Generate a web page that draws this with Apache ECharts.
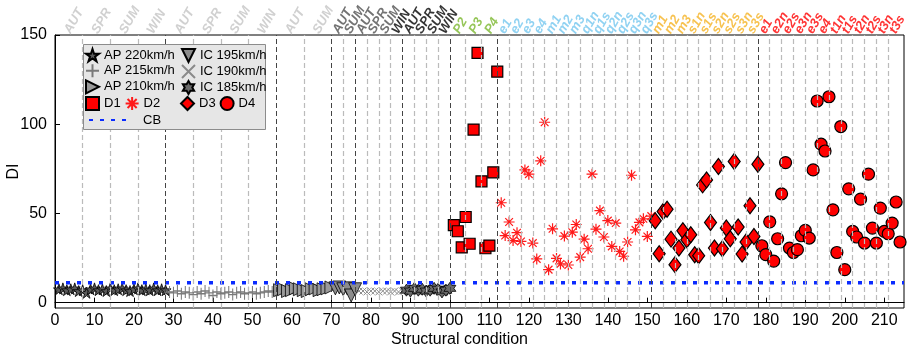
<!DOCTYPE html>
<html>
<head>
<meta charset="utf-8">
<script src="https://cdn.jsdelivr.net/npm/echarts@6/dist/echarts.min.js"></script>
<style>
html, body { margin: 0; padding: 0; background: #fff; }
#main { width: 907px; height: 355px; }
</style>
</head>
<body>
<div id="main"></div>
<script>
var dom = document.getElementById('main');
var myChart = echarts.init(dom);

// low-DI runs (one value per structural condition)
var ap220Start = 1;
var ap220 = [7.5, 8, 7, 7.5, 8, 6.5, 7, 5.5, 7.5, 8, 7, 7.5, 6.5, 8, 7, 7.5, 8, 7, 6.5, 7.5, 8, 7, 7.5, 7, 8, 7, 7.5, 7];
var ap215Start = 29;
var ap215 = [6, 5.5, 6.5, 5, 6, 5.5, 4.5, 6, 5, 6.5, 5.5, 4, 6, 5, 5.5, 6, 4.5, 5.5, 6, 5, 5.5, 6, 5, 5.5, 6, 6.5, 6, 6.5];
var ap210Start = 57;
var ap210 = [7, 7.5, 6.5, 7, 8, 7.5, 7, 6.5, 7.5, 8, 7, 7.5, 8, 8.5];
var ic195Start = 71;
var ic195 = [8, 8.5, 7.5, 8, 4, 7.5];
var ic190Start = 77;
var ic190 = [6.5, 6.5, 6, 6.5, 6.5, 6, 6.5, 6.5, 6, 6.5, 6, 6.5];
var ic185Start = 89;
var ic185 = [7, 6.5, 8, 7, 7.5, 6.5, 7, 8, 7.5, 6, 7, 8];

// damage runs
var d1Start = 101;
var d1 = [43.5, 40, 31, 48, 33, 97, 140, 68, 30.5, 32, 73, 129.5];
var d2Start = 113;
var d2 = [56, 37.6, 45.2, 34.8, 39.2, 34.3, 74.4, 72, 33.4, 24.5, 79.5, 101.1, 18.5, 41.4, 24.8,
          21.7, 37.3, 21.1, 39.5, 43.8, 25.5, 35.6, 30.2, 72, 41.2, 51.6, 36.8, 46, 31.5, 44.6,
          28.7, 26, 34, 71.4, 40.8, 45, 47, 37.1, 48.5];
var d3Start = 152;
var d3 = [45.9, 27.4, 51.1, 52.4, 35.6, 21.3, 30.6, 40.3, 35.3, 38, 26.9, 26.3, 66, 68.8, 44.9,
          30.6, 76.3, 30.2, 41.8, 35.8, 79.1, 42.4, 27.2, 34, 54.3, 37.1, 77.6];
var d4Start = 179;
var d4 = [31.9, 26.9, 45.3, 23.3, 35.8, 61, 78.5, 30.6, 28.1, 29.7, 37.5, 40.5, 36.2, 74.4, 113,
          88.8, 85, 115.4, 52, 28.1, 98.7, 18.5, 63.8, 39.9, 36.8, 58, 33.4, 72, 41.8, 33.4,
          53, 39.9, 38.6, 44.6, 56.4, 34];

var cbValue = 11.2;

var xTicks = [0, 10, 20, 30, 40, 50, 60, 70, 80, 90, 100, 110, 120, 130, 140, 150, 160, 170, 180, 190, 200, 210];
var yTicks = [0, 50, 100, 150];

// condition groups along the top
var labelGroups = [
    { names: ['AUT', 'SPR', 'SUM', 'WIN'], width: 7, colors: ['#c4c4c4'] },
    { names: ['AUT', 'SPR', 'SUM', 'WIN'], width: 7, colors: ['#c4c4c4'] },
    { names: ['AUT', 'SUM'], width: 7, colors: ['#c4c4c4'] },
    { names: ['AUT', 'SUM'], width: 3, colors: ['#505050'] },
    { names: ['AUT', 'SPR', 'SUM', 'WIN'], width: 3, colors: ['#505050', '#505050', '#505050', '#000'] },
    { names: ['AUT', 'SPR', 'SUM', 'WIN'], width: 3, colors: ['#000'] },
    { names: ['P2', 'P3', 'P4'], width: 4, colors: ['#7cb82f'] },
    { names: ['e1', 'e2', 'e3', 'e4', 'm1', 'm2', 'm3', 'q1n', 'q1s', 'q2n', 'q2s', 'q3n', 'q3s'], width: 3, colors: ['#74c7ef'] },
    { names: ['m1', 'm2', 'm3', 's1n', 's1s', 's2n', 's2s', 's3n', 's3s'], width: 3, colors: ['#f5b324'] },
    { names: ['e1', 'e2n', 'e2s', 'e3n', 'e3s', 'e4', 't1n', 't1s', 't2n', 't2s', 't3n', 't3s'], width: 3, colors: ['#ff0000'] }
];

function pairs(start, vals) {
    return vals.map(function (v, i) { return [start + i, v]; });
}

var topLabels = [];
var lines = [];
var pos = 0;
labelGroups.forEach(function (g, gi) {
    g.names.forEach(function (n, i) {
        var c = g.colors[i] || g.colors[0];
        topLabels.push({ value: [pos + g.width / 2, 150], name: n, label: { color: c } });
        pos += g.width;
        var last = i === g.names.length - 1;
        if (last && gi === labelGroups.length - 1) return;
        lines.push({
            xAxis: pos,
            lineStyle: last ? { color: '#444', type: [5, 3], width: 1 } : { color: '#bbb', type: [5, 3], width: 1.2 }
        });
    });
});

var FONT = 'Liberation Sans';
var starPath = 'path://M50,0L61.8,35.3L98.9,35.3L68.8,57.1L80.3,92.7L50,70.6L19.7,92.7L31.2,57.1L1.1,35.3L38.2,35.3Z';
var hexPath = 'path://M50,0L64.4,25L93.3,25L78.9,50L93.3,75L64.4,75L50,100L35.6,75L6.7,75L21.1,50L6.7,25L35.6,25Z';
var plusPath = 'path://M5,0L5,10M0,5L10,5';
var crossPath = 'path://M0,0L10,10M10,0L0,10';
var rightTri = 'path://M0,0L10,5L0,10Z';
var downTri = 'path://M0,0L10,0L5,10Z';
var asterisk = 'path://M5,0L5,10M0,5L10,5M1.5,1.5L8.5,8.5M8.5,1.5L1.5,8.5';

var legendText = { fontFamily: FONT, fontSize: 13, color: '#000', lineHeight: 14 };

var option = {
    animation: false,
    textStyle: { fontFamily: FONT },
    grid: { left: 55, right: 3, top: 35, bottom: 47, show: true, borderColor: '#000', borderWidth: 1,
            containLabel: false, outerBoundsMode: 'none' },
    graphic: [{
        type: 'rect', left: 83, top: 44, z: 50, zlevel: 0,
        shape: { width: 182, height: 85 },
        style: { fill: '#e6e6e6', stroke: '#8c8c8c', lineWidth: 1 }
    }],
    legend: [
        { z: 100, orient: 'vertical', left: 85, top: 48, padding: 0, itemGap: 1, itemWidth: 13, itemHeight: 13, selectedMode: false, textStyle: legendText, data: ['AP 220km/h', 'AP 215km/h', 'AP 210km/h'] },
        { z: 100, orient: 'vertical', left: 181, top: 48, padding: 0, itemGap: 1, itemWidth: 13, itemHeight: 13, selectedMode: false, textStyle: legendText, data: ['IC 195km/h', 'IC 190km/h', 'IC 185km/h'] },
        { z: 100, orient: 'horizontal', left: 85, top: 96, padding: 0, itemGap: 4, itemWidth: 13, itemHeight: 13, selectedMode: false, textStyle: legendText, data: ['D1', 'D2'] },
        { z: 100, orient: 'horizontal', left: 180, top: 96, padding: 0, itemGap: 4, itemWidth: 13, itemHeight: 13, selectedMode: false, textStyle: legendText, data: ['D3', 'D4'] },
        { z: 100, orient: 'horizontal', left: 88, top: 113, padding: 0, itemWidth: 42, itemHeight: 14, selectedMode: false,
          textStyle: { fontFamily: FONT, fontSize: 13, color: '#000', lineHeight: 14, padding: [0, 0, 0, 7] },
          data: [{ name: 'CB', itemStyle: { opacity: 0 } }] }
    ],
    xAxis: {
        type: 'value', min: 0, max: 215,
        name: 'Structural condition', nameLocation: 'middle', nameGap: 24, nameMoveOverlap: false,
        nameTextStyle: { fontFamily: FONT, fontSize: 16, color: '#000', padding: [0, 40, 0, 0] },
        axisLine: { lineStyle: { color: '#000', width: 1 } },
        axisTick: { inside: true, length: 5, lineStyle: { color: '#000' }, customValues: xTicks },
        axisLabel: { fontFamily: FONT, fontSize: 16, color: '#000', margin: 5, customValues: xTicks },
        splitLine: { show: false }
    },
    yAxis: {
        type: 'value', min: -3, max: 150,
        name: 'DI', nameLocation: 'middle', nameGap: 33, nameMoveOverlap: false,
        nameTextStyle: { fontFamily: FONT, fontSize: 16, color: '#000' },
        axisLine: { lineStyle: { color: '#000', width: 1 } },
        axisTick: { inside: true, length: 5, lineStyle: { color: '#000' }, customValues: yTicks },
        axisLabel: { fontFamily: FONT, fontSize: 16, color: '#000', margin: 8, customValues: yTicks },
        splitLine: { show: false }
    },
    series: [
        {
            name: 'conditions', type: 'scatter', symbolSize: 0, z: 1, clip: false, silent: true,
            data: topLabels,
            label: {
                show: true, position: 'top', distance: 5, offset: [-3, 0], rotate: 60,
                align: 'left', verticalAlign: 'middle',
                fontFamily: FONT, fontSize: 13, fontWeight: 'bold', fontStyle: 'italic',
                formatter: function (p) { return p.name; }
            },
            markLine: {
                silent: true, symbol: ['none', 'none'], label: { show: false },
                data: lines
            }
        },
        { name: 'AP 220km/h', type: 'scatter', symbol: starPath, symbolSize: 11, data: pairs(ap220Start, ap220),
          itemStyle: { color: '#5a5a5a', borderColor: '#000', borderWidth: 0.8, opacity: 1 } },
        { name: 'AP 215km/h', type: 'scatter', symbol: plusPath, symbolSize: [9, 12], data: pairs(ap215Start, ap215),
          itemStyle: { color: '#7a7a7a', borderColor: '#7a7a7a', borderWidth: 1.2, opacity: 1 } },
        { name: 'AP 210km/h', type: 'scatter', symbol: rightTri, symbolSize: 13, data: pairs(ap210Start, ap210),
          itemStyle: { color: '#9a9a9a', borderColor: '#000', borderWidth: 0.8, opacity: 1 } },
        { name: 'IC 195km/h', type: 'scatter', symbol: downTri, symbolSize: 13, data: pairs(ic195Start, ic195),
          itemStyle: { color: '#8c8c8c', borderColor: '#000', borderWidth: 0.8, opacity: 1 } },
        { name: 'IC 190km/h', type: 'scatter', symbol: crossPath, symbolSize: 7, data: pairs(ic190Start, ic190),
          itemStyle: { color: '#8a8a8a', borderColor: '#8a8a8a', borderWidth: 1, opacity: 1 } },
        { name: 'IC 185km/h', type: 'scatter', symbol: hexPath, symbolSize: 12, data: pairs(ic185Start, ic185),
          itemStyle: { color: '#6a6a6a', borderColor: '#000', borderWidth: 0.8, opacity: 1 } },
        { name: 'D1', type: 'scatter', symbol: 'rect', symbolSize: 11, data: pairs(d1Start, d1),
          itemStyle: { color: '#ff0000', borderColor: '#000', borderWidth: 1.2, opacity: 1 } },
        { name: 'D2', type: 'scatter', symbol: asterisk, symbolSize: 11, data: pairs(d2Start, d2),
          itemStyle: { color: '#ff1a1a', borderColor: '#ff1a1a', borderWidth: 1.2, opacity: 1 } },
        { name: 'D3', type: 'scatter', symbol: 'diamond', symbolSize: [12, 16], data: pairs(d3Start, d3),
          itemStyle: { color: '#ff0000', borderColor: '#000', borderWidth: 1.2, opacity: 1 } },
        { name: 'D4', type: 'scatter', symbol: 'circle', symbolSize: 12, data: pairs(d4Start, d4),
          itemStyle: { color: '#ff0000', borderColor: '#000', borderWidth: 1.2, opacity: 1 } },
        { name: 'CB', type: 'line', symbol: 'none', z: 3, data: [[0, cbValue], [215, cbValue]],
          lineStyle: { color: '#0a2bff', width: 3.5, type: [4, 7], cap: 'butt' } }
    ]
};

myChart.setOption(option);
</script>
</body>
</html>
